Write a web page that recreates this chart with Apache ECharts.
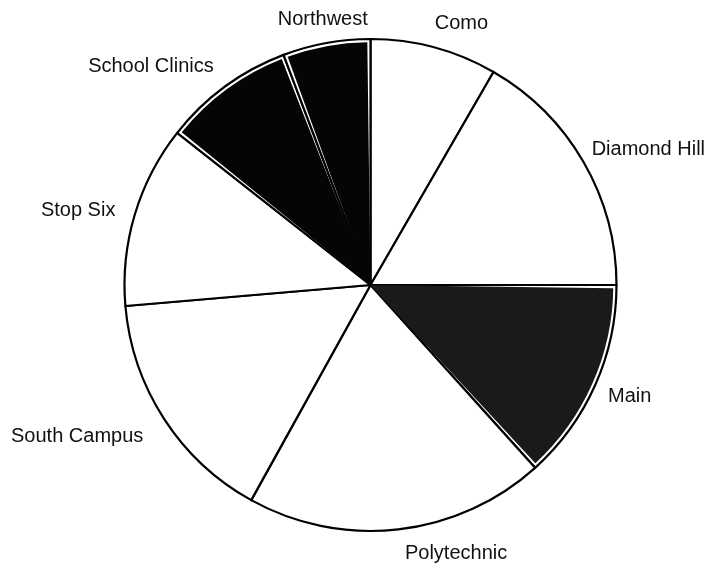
<!DOCTYPE html>
<html>
<head>
<meta charset="utf-8">
<script src="https://cdn.jsdelivr.net/npm/echarts@6/dist/echarts.min.js"></script>
<style>html,body{margin:0;padding:0;background:#fff;}#c{width:715px;height:569px;}</style>
</head>
<body>
<div id="c"></div>
<script>
// Slice shares (read as angles in degrees, clockwise from 12 o'clock)
const categories = ['Como', 'Diamond Hill', 'Main', 'Polytechnic', 'South Campus', 'Stop Six', 'School Clinics', 'Northwest'];
const values = [30, 60, 48, 71, 56.1, 43.1, 31.1, 20.7];
const dark = [false, false, true, false, false, false, true, true];

const chart = echarts.init(document.getElementById('c'), null, {renderer: 'canvas'});
const fillOf = (i) => dark[i] ? (categories[i] === 'Main' ? '#1a1a1a' : '#050505') : '#ffffff';

const base = categories.map((n, i) => ({
  name: n, value: values[i],
  itemStyle: {color: '#ffffff'}
}));

// inner overlay: dark fills inset from the black outline, leaving a thin white rim
const pad = 0.75;
const inner = [];
categories.forEach((n, i) => {
  const c = dark[i] ? fillOf(i) : 'rgba(0,0,0,0)';
  inner.push({name: n + '_a', value: pad, itemStyle: {color: 'rgba(0,0,0,0)'}});
  inner.push({name: n, value: values[i] - 2 * pad, itemStyle: {color: c}});
  inner.push({name: n + '_b', value: pad, itemStyle: {color: 'rgba(0,0,0,0)'}});
});

// per-label nudges (dx, dy) to match reference label placement
const nudges = {
  'Como': [-14, -10],
  'Diamond Hill': [-15, -6],
  'Main': [-11, 6],
  'Polytechnic': [-6, 10],
  'South Campus': [2, 10],
  'Stop Six': [5, 0],
  'School Clinics': [8, -9],
  'Northwest': [55, -10]
};

chart.setOption({
  animation: false,
  backgroundColor: '#ffffff',
  series: [{
    type: 'pie',
    center: [370.5, 285],
    radius: 246,
    startAngle: 90,
    clockwise: true,
    data: base,
    itemStyle: {borderColor: '#000', borderWidth: 2.2},
    label: {
      show: true,
      position: 'outside',
      color: '#111',
      fontFamily: 'Liberation Sans, Arial, sans-serif',
      fontSize: 20,
      overflow: 'none',
      formatter: '{b}'
    },
    labelLine: {show: false, length: 14, length2: 6},
    labelLayout: function (p) {
      const n = nudges[p.text] || [0, 0];
      return {dx: n[0], dy: n[1]};
    },
    emphasis: {disabled: true}
  }, {
    type: 'pie',
    center: [370.5, 285],
    radius: 242.8,
    startAngle: 90,
    clockwise: true,
    silent: true,
    data: inner,
    itemStyle: {borderWidth: 0},
    label: {show: false},
    labelLine: {show: false},
    emphasis: {disabled: true}
  }]
});
</script>
</body>
</html>
